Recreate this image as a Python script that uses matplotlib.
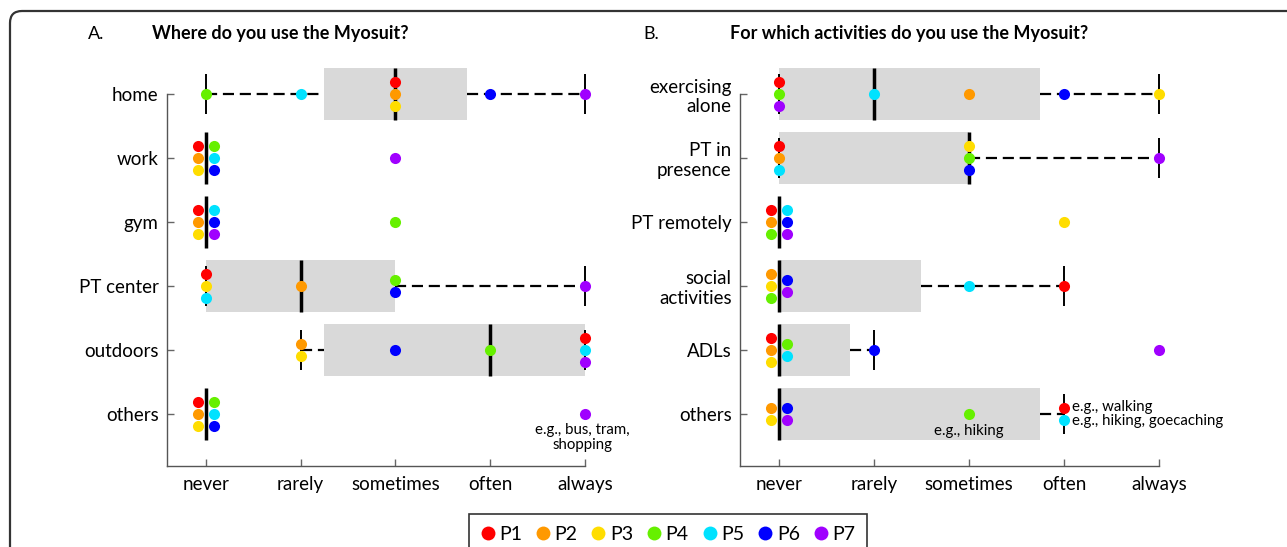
import matplotlib
matplotlib.use('Agg')
import matplotlib.pyplot as plt
import numpy as np
from matplotlib.patches import Rectangle, FancyBboxPatch
from matplotlib.lines import Line2D

plt.rcParams['font.family'] = ['Lato', 'DejaVu Sans']

# ---------------- data ----------------
levels = ['never', 'rarely', 'sometimes', 'often', 'always']
participants = ['P1', 'P2', 'P3', 'P4', 'P5', 'P6', 'P7']
colors = ['#FF0000', '#FF9900', '#FFDD00', '#66F000', '#00E2FF', '#0000FF', '#A000FF']

# Panel A: where (values per participant P1..P7, 0=never .. 4=always)
places = ['home', 'work', 'gym', 'PT center', 'outdoors', 'others']
home = [2, 2, 2, 0, 1, 3, 4]
work = [0, 0, 0, 0, 0, 0, 2]
gym = [0, 0, 0, 2, 0, 0, 0]
pt_center = [0, 1, 0, 2, 0, 2, 4]
outdoors = [4, 1, 1, 3, 4, 2, 4]
others_a = [0, 0, 0, 0, 0, 0, 4]

# Panel B: activities
activities = ['exercising\nalone', 'PT in\npresence', 'PT remotely',
              'social\nactivities', 'ADLs', 'others']
exercising_alone = [0, 2, 4, 0, 1, 3, 0]
pt_presence = [0, 0, 2, 2, 0, 2, 4]
pt_remotely = [0, 0, 3, 0, 0, 0, 0]
social = [3, 0, 0, 0, 2, 0, 0]
adls = [0, 0, 0, 0, 0, 1, 4]
others_b = [3, 0, 0, 2, 3, 0, 0]

title_a = 'Where do you use the Myosuit?'
title_b = 'For which activities do you use the Myosuit?'

rows_a = [home, work, gym, pt_center, outdoors, others_a]
rows_b = [exercising_alone, pt_presence, pt_remotely, social, adls, others_b]

# ---------------- helpers ----------------
def mprctile(vals, p):
    x = np.sort(np.asarray(vals, dtype=float))
    n = len(x)
    pos = p * n + 0.5
    if pos <= 1:
        return x[0]
    if pos >= n:
        return x[-1]
    lo = int(np.floor(pos))
    frac = pos - lo
    return x[lo - 1] + frac * (x[lo] - x[lo - 1])


BOX_H = 0.41
CAP_H = 0.31
DY = 0.185
DX = 0.082


def draw_row(ax, y, vals):
    v = np.asarray(vals, dtype=float)
    q1 = mprctile(v, 0.25)
    med = mprctile(v, 0.5)
    q3 = mprctile(v, 0.75)
    iqr = q3 - q1
    lo = v[v >= q1 - 1.5 * iqr].min()
    hi = v[v <= q3 + 1.5 * iqr].max()
    if q3 > q1:
        ax.add_patch(Rectangle((q1, y - BOX_H), q3 - q1, 2 * BOX_H,
                               facecolor='#D9D9D9', edgecolor='none',
                               zorder=1, clip_on=False))
    if hi > q3:
        ax.plot([q3, hi], [y, y], color='black', lw=1.6, ls=(0, (5, 2.6)),
                zorder=2, clip_on=False)
    if lo < q1:
        ax.plot([lo, q1], [y, y], color='black', lw=1.6, ls=(0, (5, 2.6)),
                zorder=2, clip_on=False)
    for c in (lo, hi):
        ax.plot([c, c], [y - CAP_H, y + CAP_H], color='black', lw=1.4,
                zorder=2, clip_on=False, solid_capstyle='butt')
    ax.plot([med, med], [y - BOX_H, y + BOX_H], color='black', lw=2.5,
            zorder=3, clip_on=False, solid_capstyle='butt')
    # dots
    for val in sorted(set(vals)):
        idx = [i for i, vv in enumerate(vals) if vv == val]
        k = len(idx)
        if k <= 3:
            cols = [(0.0, idx)]
        else:
            h = int(np.ceil(k / 2))
            cols = [(-DX, idx[:h]), (DX, idx[h:])]
        for xo, members in cols:
            m = len(members)
            for j, pi in enumerate(members):
                yo = ((m - 1) / 2 - j) * DY
                ax.plot(val + xo, y + yo, 'o', color=colors[pi], ms=8,
                        mec='none', zorder=4, clip_on=False)


def setup_axes(ax, labels):
    ax.set_xlim(-0.41, 4)
    ax.set_ylim(0.1875, 6)
    ax.set_xticks(range(5))
    ax.set_xticklabels(levels, fontsize=13.5)
    ax.set_yticks([6, 5, 4, 3, 2, 1])
    ax.set_yticklabels(labels, fontsize=13.5, linespacing=1.2)
    ax.tick_params(direction='in', length=5, color='#666666', width=1)
    ax.tick_params(axis='x', pad=7)
    ax.tick_params(axis='y', pad=6)
    for s in ('top', 'right'):
        ax.spines[s].set_visible(False)
    for s in ('left', 'bottom'):
        ax.spines[s].set_color('#555555')
        ax.spines[s].set_linewidth(1.0)


W, H = 1287, 547
fig = plt.figure(figsize=(W / 100, H / 100), dpi=100)

# background frame
bg = fig.add_axes([0, 0, 1, 1], zorder=-5)
bg.set_xlim(0, W)
bg.set_ylim(H, 0)
bg.axis('off')
bg.add_patch(FancyBboxPatch((10, 11), 1400, 700,
                            boxstyle='round,pad=0,rounding_size=12',
                            facecolor='white', edgecolor='#333333', lw=1.6))

def px_axes(x0, x1, y0, y1):
    return fig.add_axes([x0 / W, 1 - y1 / H, (x1 - x0) / W, (y1 - y0) / H])

axA = px_axes(167, 585, 94, 466)
axB = px_axes(740, 1159, 94, 466)
setup_axes(axA, places)
setup_axes(axB, activities)

for r, vals in enumerate(rows_a):
    draw_row(axA, 6 - r, vals)
for r, vals in enumerate(rows_b):
    draw_row(axB, 6 - r, vals)

# annotations
axA.text(3.97, 0.86, 'e.g., bus, tram,\nshopping', ha='center', va='top',
         fontsize=10.8, linespacing=1.05)
axB.text(2.0, 0.84, 'e.g., hiking', ha='center', va='top', fontsize=10.8)
axB.text(3.085, 1.11, 'e.g., walking', ha='left', va='center', fontsize=10.8)
axB.text(3.085, 0.89, 'e.g., hiking, goecaching', ha='left', va='center',
         fontsize=10.8)

# titles
fig.text(88 / W, 1 - 34 / H, 'A.', ha='left', va='center', fontsize=13)
fig.text(152 / W, 1 - 34 / H, title_a, ha='left', va='center', fontsize=13,
         fontweight='bold')
fig.text(643 / W, 1 - 34 / H, 'B.', ha='left', va='center', fontsize=13)
fig.text(730 / W, 1 - 34 / H, title_b, ha='left', va='center', fontsize=13,
         fontweight='bold')

# legend
handles = [Line2D([], [], ls='none', marker='o', ms=10, color=c, mec='none')
           for c in colors]
leg = fig.legend(handles, participants, loc='upper center',
                 bbox_to_anchor=(668 / W, 1 - 514 / H), ncol=7, frameon=True,
                 fancybox=False, edgecolor='black', fontsize=14,
                 handletextpad=0.25, columnspacing=0.72, handlelength=0.7,
                 borderpad=0.62, borderaxespad=0)
leg.get_frame().set_linewidth(1.2)

fig.savefig('out.png', dpi=100)
